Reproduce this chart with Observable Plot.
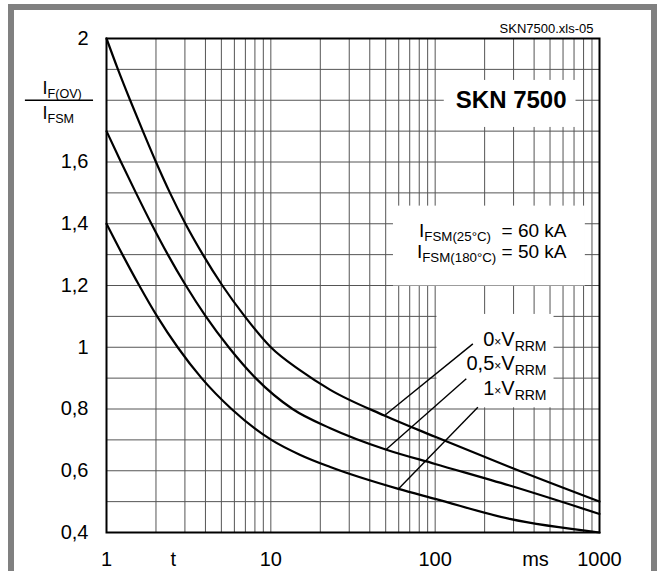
<!DOCTYPE html>
<html>
<head>
<meta charset="utf-8">
<script src="https://cdn.jsdelivr.net/npm/d3@7"></script>
<script src="https://cdn.jsdelivr.net/npm/@observablehq/plot@0.6"></script>
<style>
  body { margin: 0; background: #fff; }
  #wrap { position: relative; width: 659px; height: 571px; overflow: hidden; background: #fff; }
  #wrap svg { position: absolute; left: 0; top: 0; }
  #border { position: absolute; left: 8px; top: 4px; width: 649px; height: 700px;
            border: 6px solid #808080; border-bottom: none; box-sizing: border-box; pointer-events: none; }
</style>
</head>
<body>
<div id="wrap"><div id="border"></div></div>
<script>
// ---- data ----
const seriesNames = ["0×VRRM", "0,5×VRRM", "1×VRRM"];
const t0  = [1, 1.174, 1.393, 1.665, 2, 2.434, 3.022, 3.859, 5.07, 6.94, 10, 15.1, 23, 49, 100, 284, 1000];
const v0  = [2.0, 1.9, 1.8, 1.7, 1.6, 1.5, 1.4, 1.3, 1.2, 1.1, 1.0, 0.925, 0.862, 0.779, 0.71, 0.612, 0.5];
const t05 = [1, 1.225, 1.511, 1.876, 2.362, 3.039, 4.019, 5.544, 8.085, 13.56, 23, 50, 100, 284, 1000];
const v05 = [1.7, 1.6, 1.5, 1.4, 1.3, 1.2, 1.1, 1.0, 0.9, 0.8, 0.738, 0.669, 0.622, 0.552, 0.46];
const t1  = [1, 1.251, 1.582, 2.034, 2.71, 3.79, 5.766, 10.08, 15, 23, 59, 100, 284, 1000];
const v1  = [1.4, 1.3, 1.2, 1.1, 1.0, 0.9, 0.8, 0.7, 0.652, 0.612, 0.542, 0.509, 0.444, 0.40];

const legendLabels = ["0~{×}V_{RRM}", "0,5~{×}V_{RRM}", "1~{×}V_{RRM}"];
const labelV  = [1.025, 0.946, 0.865];
const leaderFromT = [169.6, 154.6, 181.9];
const leaderFromV = [1.011, 0.898, 0.806];
const leaderToT   = [49.2, 50.3, 59.3];
const leaderToV   = [0.779, 0.669, 0.539];

const xGrid = [1,2,3,4,5,6,7,8,9,10,20,30,40,50,60,70,80,90,100,200,300,400,500,600,700,800,900,1000];
const yGrid = [0.4,0.5,0.6,0.7,0.8,0.9,1.0,1.1,1.2,1.3,1.4,1.5,1.6,1.7,1.8,1.9,2.0];
const xTicks = [1, 10, 100, 1000];
const xTickLabels = ["1", "10", "100", "1000"];
const yTicks = [0.4, 0.6, 0.8, 1, 1.2, 1.4, 1.6, 2];
const yTickLabels = ["0,4", "0,6", "0,8", "1", "1,2", "1,4", "1,6", "2"];
const ifsmLines = ["I_{FSM(25°C)}  = 60 kA", "I_{FSM(180°C)} = 50 kA"];
const ifsmV = [1.378, 1.310];

// ---- tables built from the arrays ----
const curves = [
  ...t0.map((t, i) => ({series: seriesNames[0], t, v: v0[i]})),
  ...t05.map((t, i) => ({series: seriesNames[1], t, v: v05[i]})),
  ...t1.map((t, i) => ({series: seriesNames[2], t, v: v1[i]}))
];
const leaders = seriesNames.map((s, i) => ({s, x1: leaderFromT[i], y1: leaderFromV[i], x2: leaderToT[i], y2: leaderToV[i]}));
const labels = legendLabels.map((text, i) => ({text, v: labelV[i]}));
const ifsm = ifsmLines.map((text, i) => ({text, v: ifsmV[i]}));

const FONT = "'Liberation Sans', Arial, Helvetica, sans-serif";
const gridStyle = {stroke: "#555", strokeOpacity: 1, strokeWidth: 1};

const plot = Plot.plot({
  width: 659, height: 571,
  marginLeft: 106, marginRight: 60, marginTop: 38, marginBottom: 39,
  x: {type: "log", domain: [1, 1000], label: null},
  y: {domain: [0.4, 2], label: null},
  style: {fontFamily: FONT, fontSize: "20px", color: "#000", background: "transparent", overflow: "visible"},
  marks: [
    Plot.gridX(xGrid, gridStyle),
    Plot.gridY(yGrid, gridStyle),
    Plot.line(curves, {x: "t", y: "v", z: "series", curve: "monotone-x", stroke: "#000", strokeWidth: 2.2}),
    Plot.link(leaders, {x1: "x1", y1: "y1", x2: "x2", y2: "y2", stroke: "#000", strokeWidth: 1.4}),
    Plot.frame({stroke: "#000", strokeWidth: 2}),
    Plot.axisY(yTicks, {tickSize: 0, tickPadding: 18, fontSize: 20, label: null,
      tickFormat: d => yTickLabels[yTicks.indexOf(d)]}),
    Plot.axisX(xTicks, {tickSize: 0, tickPadding: 19, fontSize: 20, label: null,
      tickFormat: d => xTickLabels[xTicks.indexOf(d)]}),
    Plot.text(["t"], {x: 2.55, frameAnchor: "bottom", lineAnchor: "top", dy: 19, fontSize: 20}),
    Plot.text(["ms"], {x: 408, frameAnchor: "bottom", lineAnchor: "top", dy: 19, fontSize: 20}),
    Plot.text(["SKN7500.xls-05"], {x: 1000, y: 2, dx: -6, dy: -6, textAnchor: "end", lineAnchor: "bottom", fontSize: 13}),
    // y-axis label as a fraction
    Plot.text(["I_{F(OV)}"], {x: 1, y: 1.8, dx: -64, dy: -6.5, textAnchor: "start", lineAnchor: "bottom", fontSize: 18}),
    Plot.text(["I_{FSM}"], {x: 1, y: 1.8, dx: -64, dy: 18.5, textAnchor: "start", lineAnchor: "bottom", fontSize: 18}),
    Plot.ruleY([1.8], {x1: 0.321, x2: 0.834, stroke: "#000", strokeWidth: 1.3}),
    // annotations
    Plot.text(["SKN 7500"], {x: 630, y: 1.8, textAnchor: "end", lineAnchor: "middle", fontSize: 24, fontWeight: "bold", className: "boxSKN"}),
    Plot.text(ifsm, {x: 630, y: "v", text: "text", textAnchor: "end", lineAnchor: "middle", fontSize: 19, className: "boxIFSM"}),
    Plot.text(labels, {x: 476, y: "v", text: "text", textAnchor: "end", lineAnchor: "middle", fontSize: 20, className: "boxLEG"})
  ]
});

const wrap = document.getElementById("wrap");
wrap.insertBefore(plot, wrap.firstChild);

// rich text: _{..} subscript, ~{..} small inline
const NS = "http://www.w3.org/2000/svg";
function richify(el) {
  const s = el.textContent;
  if (!/[_~]\{/.test(s)) return;
  const base = parseFloat(getComputedStyle(el).fontSize) || 20;
  while (el.firstChild) el.removeChild(el.firstChild);
  const re = /([_~])\{([^}]*)\}|([^_~]+)/g;
  let m, shift = 0;
  while ((m = re.exec(s))) {
    const ts = document.createElementNS(NS, "tspan");
    let target = 0, size = null;
    if (m[3] !== undefined) { ts.textContent = m[3]; }
    else if (m[1] === "_") { ts.textContent = m[2]; size = base * 0.7; target = base * 0.25; }
    else { ts.textContent = m[2]; size = base * 0.6; }
    if (size) ts.setAttribute("font-size", size.toFixed(1));
    if (target !== shift) { ts.setAttribute("dy", (target - shift).toFixed(1)); shift = target; }
    ts.setAttribute("style", "white-space: pre");
    el.appendChild(ts);
  }
}
plot.querySelectorAll("text").forEach(richify);

// white boxes behind annotation blocks (interrupt the grid)
const lineG = plot.querySelector('g[aria-label="line"]');
const boxG = document.createElementNS(NS, "g");
plot.insertBefore(boxG, lineG);
const sr = plot.getBoundingClientRect();
function box(cls, pad) {
  const texts = plot.querySelectorAll("g." + cls + " text");
  let x0 = Infinity, y0 = Infinity, x1 = -Infinity, y1 = -Infinity;
  texts.forEach(t => {
    const r = t.getBoundingClientRect();
    x0 = Math.min(x0, r.left); y0 = Math.min(y0, r.top);
    x1 = Math.max(x1, r.right); y1 = Math.max(y1, r.bottom);
  });
  if (!isFinite(x0)) return;
  const rect = document.createElementNS(NS, "rect");
  rect.setAttribute("x", x0 - sr.left - pad[3]);
  rect.setAttribute("y", y0 - sr.top - pad[0]);
  rect.setAttribute("width", x1 - x0 + pad[1] + pad[3]);
  rect.setAttribute("height", y1 - y0 + pad[0] + pad[2]);
  rect.setAttribute("fill", "#fff");
  boxG.appendChild(rect);
}
box("boxSKN", [6, 9, 14, 12]);
box("boxIFSM", [14, 18, 20, 24]);
box("boxLEG", [14, 7, 4, 30]);
</script>
</body>
</html>
